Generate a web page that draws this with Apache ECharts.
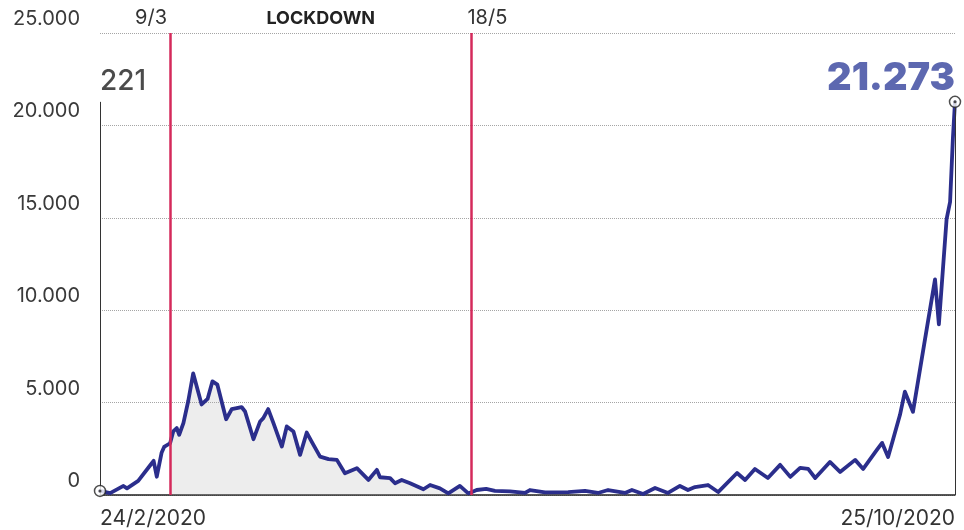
<!DOCTYPE html>
<html><head><meta charset="utf-8">
<script src="https://cdn.jsdelivr.net/npm/echarts@6/dist/echarts.min.js"></script>
<style>html,body{margin:0;padding:0;background:#fff}#c{width:964px;height:530px}</style>
</head><body><div id="c"></div>
<script>
// day offset from 24/2/2020 (vertices)
const days = [0,2.9,6.7,7.7,10.9,14.5,15.3,16.2,17.6,18.3,20,20.9,21.9,22.6,23.8,25.2,26.6,29.0,30.7,32.1,33.5,36.0,37.6,40.4,41.4,43.8,45.7,46.6,48.0,49.5,51.9,53.3,55.2,57.1,59.0,60.4,62.8,65.2,67.6,69.9,73.3,76.6,79.0,79.9,82.8,84.2,86.1,88.5,92.3,94.2,97.0,99.4,102.7,105.1,106,107.5,110.2,112.7,117,121.3,122.7,127,133.6,138.4,142.1,145,149.8,151.8,155,158.4,162.1,165.5,167.8,169.8,173.5,176.4,181.8,184.1,186.9,190.6,194.1,197,199.8,202.1,204.1,208.3,211.2,215.5,217.8,221.7,223.2,224.9,226.3,228.3,229.7,232,235.2,238.3,239.4,241.6,242.6,243.4,244];
// daily new cases
const cases = [221,100,490,360,760,1650,1850,990,2300,2600,2800,3440,3620,3260,3890,5100,6580,4900,5200,6150,5970,4100,4650,4760,4520,3020,3980,4160,4650,3890,2620,3710,3440,2170,3380,2890,2080,1940,1900,1180,1450,815,1360,960,910,635,815,635,310,540,360,90,490,90,150,270,330,220,200,110,270,140,160,220,110,270,110,270,55,380,110,490,270,430,540,160,1190,815,1410,920,1630,980,1470,1410,920,1790,1250,1900,1410,2440,2820,2060,2990,4340,5590,4500,8150,11670,9230,14930,15860,19300,21273];
const xTickLabels = ['24/2/2020', '25/10/2020'];
const yTicks = [0, 5000, 10000, 15000, 20000, 25000];
const eventDays = [20, 106];
const eventLabels = ['9/3', '18/5'];
const periodLabel = 'LOCKDOWN';

const FONT = 'Inter, "Noto Sans", sans-serif';
const fmt = v => String(v).replace(/\B(?=(\d{3})+(?!\d))/g, '.');
const lastDay = days[days.length - 1];
const lastVal = cases[cases.length - 1];
const mainData = days.map((d, i) => [d, cases[i]]);
const lockData = mainData.filter(p => p[0] >= eventDays[0] && p[0] <= eventDays[1]);

const chart = echarts.init(document.getElementById('c'));
chart.setOption({
  animation: false,
  grid: { left: 100, right: 9, top: 33, bottom: 35 },
  xAxis: {
    type: 'value', min: 0, max: lastDay, interval: lastDay,
    axisLine: { show: true, lineStyle: { color: '#222', width: 1.5 } },
    axisTick: { show: false }, splitLine: { show: false },
    axisLabel: {
      margin: 13, fontSize: 21, color: '#333', fontFamily: FONT,
      alignMinLabel: 'left', alignMaxLabel: 'right',
      formatter: v => v === 0 ? xTickLabels[0] : (v === lastDay ? xTickLabels[1] : '')
    }
  },
  yAxis: {
    type: 'value', min: yTicks[0], max: yTicks[yTicks.length - 1], interval: yTicks[1] - yTicks[0],
    axisLine: { show: false }, axisTick: { show: false },
    splitLine: { show: true, lineStyle: { color: '#a5a5a5', type: 'dotted', width: 1 } },
    axisLabel: {
      margin: 20, fontSize: 20, color: '#3a3a3a', fontFamily: FONT,
      verticalAlign: 'bottom', padding: [0, 0, 4, 0],
      formatter: v => fmt(v)
    }
  },
  series: [
    {
      type: 'line', data: lockData, symbol: 'none', silent: true, z: 1,
      lineStyle: { width: 0 },
      areaStyle: { color: 'rgba(170,170,170,0.3)' }
    },
    {
      type: 'line', data: mainData, symbol: 'none', z: 3,
      lineStyle: { color: '#2b2e8c', width: 3.8, join: 'round', cap: 'round' },
      markLine: {
        silent: true, symbol: ['none', 'none'], animation: false,
        data: [
          { xAxis: eventDays[0], lineStyle: { color: '#d42a5b', width: 2.5, type: 'solid' },
            label: { show: true, position: 'end', formatter: eventLabels[0], align: 'right', offset: [-3, 0], fontSize: 20, color: '#333', fontFamily: FONT } },
          { xAxis: eventDays[1], lineStyle: { color: '#d42a5b', width: 2.5, type: 'solid' },
            label: { show: true, position: 'end', formatter: eventLabels[1], align: 'left', offset: [-4, 0], fontSize: 20, color: '#333', fontFamily: FONT } },
          [ { coord: [days[0], 0], lineStyle: { color: '#333', width: 1, type: 'solid' }, label: { show: false } }, { coord: [days[0], lastVal] } ],
          [ { coord: [lastDay, 0], lineStyle: { color: '#333', width: 1, type: 'solid' }, label: { show: false } }, { coord: [lastDay, lastVal] } ]
        ]
      },
      markArea: {
        silent: true,
        itemStyle: { color: 'rgba(0,0,0,0)' },
        label: { show: true, position: 'top', distance: 5, fontSize: 18, fontWeight: 'bold', color: '#222', fontFamily: FONT },
        data: [[ { name: periodLabel, xAxis: eventDays[0] }, { xAxis: eventDays[1] } ]]
      }
    },
    {
      type: 'scatter', z: 5, silent: true,
      data: [[days[0], cases[0]], [lastDay, lastVal]],
      symbol: 'circle', symbolSize: 11,
      itemStyle: { color: '#fff', borderColor: '#222', borderWidth: 1.5 }
    },
    {
      type: 'scatter', z: 6, silent: true,
      data: [[days[0], cases[0]], [lastDay, lastVal]],
      symbol: 'circle', symbolSize: 3,
      itemStyle: { color: '#222' }
    },
    {
      type: 'scatter', z: 7, silent: true, symbolSize: 0,
      data: [
        { value: [days[0], lastVal], label: { show: true, position: 'top', distance: 6, align: 'left', formatter: fmt(cases[0]), fontSize: 28, fontWeight: 500, color: '#1e1e1e', fontFamily: FONT } },
        { value: [lastDay, lastVal], label: { show: true, position: 'top', distance: 4, align: 'right', formatter: fmt(lastVal), fontSize: 38, fontWeight: 900, color: '#34429c', fontFamily: FONT } }
      ]
    }
  ]
});
</script></body></html>
